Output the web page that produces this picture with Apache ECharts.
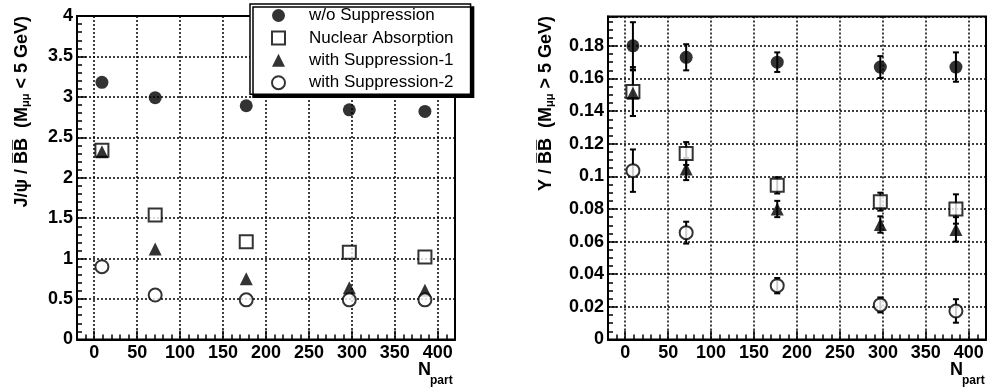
<!DOCTYPE html>
<html>
<head>
<meta charset="utf-8">
<script src="https://cdn.jsdelivr.net/npm/echarts@6/dist/echarts.min.js"></script>
<style>
  html, body { margin: 0; padding: 0; background: #fff; }
  #chart { width: 989px; height: 387px; }
</style>
</head>
<body>
<div id="chart"></div>
<script>
const FONT = "'Liberation Sans', Arial, Helvetica, sans-serif";

const seriesNames = ['w/o Suppression', 'Nuclear Absorption', 'with Suppression-1', 'with Suppression-2'];
const nPart = [9, 71, 177, 297, 385];

// J/psi / BB (left panel)
const jpsiNoSupp = [3.18, 2.99, 2.89, 2.84, 2.82];
const jpsiNucAbs = [2.34, 1.54, 1.21, 1.08, 1.02];
const jpsiSupp1 = [2.32, 1.12, 0.75, 0.64, 0.61];
const jpsiSupp2 = [0.90, 0.55, 0.49, 0.49, 0.49];

// Upsilon / BB (right panel) with errors
const upsNoSupp = [0.180, 0.173, 0.170, 0.167, 0.167];
const upsNoSuppErr = [0.0145, 0.008, 0.006, 0.0067, 0.009];
const upsNucAbs = [0.152, 0.114, 0.0945, 0.0845, 0.080];
const upsNucAbsErr = [0.015, 0.007, 0.005, 0.0055, 0.009];
const upsSupp1 = [0.151, 0.1045, 0.080, 0.0705, 0.0675];
const upsSupp1Err = [0.014, 0.0068, 0.005, 0.005, 0.0075];
const upsSupp2 = [0.1035, 0.0655, 0.033, 0.0212, 0.0175];
const upsSupp2Err = [0.013, 0.0067, 0.0047, 0.0046, 0.0072];

const chart = echarts.init(document.getElementById('chart'));

// marker look per series, same order as seriesNames
const markers = [
  { symbol: 'circle', itemStyle: { color: '#000' } },
  { symbol: 'rect', itemStyle: { color: '#fff', borderColor: '#000', borderWidth: 2 } },
  { symbol: 'triangle', itemStyle: { color: '#000' } },
  { symbol: 'circle', itemStyle: { color: '#fff', borderColor: '#000', borderWidth: 2 } },
];

function scatter(idx, panel, ys) {
  return {
    name: seriesNames[idx],
    type: 'scatter',
    xAxisIndex: panel,
    yAxisIndex: panel,
    symbol: markers[idx].symbol,
    symbolSize: 13,
    itemStyle: markers[idx].itemStyle,
    data: nPart.map((x, i) => [x, ys[i]]),
    z: 3,
  };
}

function errorBars(ys, errs) {
  return {
    type: 'custom',
    xAxisIndex: 1,
    yAxisIndex: 1,
    silent: true,
    z: 2,
    data: nPart.map((x, i) => [x, ys[i], errs[i]]),
    renderItem: (params, api) => {
      const x = api.value(0), y = api.value(1), e = api.value(2);
      const top = api.coord([x, y + e]);
      const bot = api.coord([x, y - e]);
      const style = { stroke: '#000', lineWidth: 2 };
      return {
        type: 'group',
        children: [
          { type: 'line', shape: { x1: top[0], y1: top[1], x2: bot[0], y2: bot[1] }, style },
          { type: 'line', shape: { x1: top[0] - 3, y1: top[1], x2: top[0] + 3, y2: top[1] }, style },
          { type: 'line', shape: { x1: bot[0] - 3, y1: bot[1], x2: bot[0] + 3, y2: bot[1] }, style },
        ],
      };
    },
  };
}

const labelStyle = { fontFamily: FONT, fontWeight: 'bold', fontSize: 18, color: '#000' };
const gridLine = { show: true, lineStyle: { color: '#000', type: [2, 2], width: 1.5 } };

function xAxis(gridIndex) {
  return {
    type: 'value',
    gridIndex,
    min: -20,
    max: 420,
    splitNumber: 9,
    axisLine: { show: true, onZero: false, lineStyle: { color: '#000', width: 2 } },
    axisTick: { show: true, inside: true, length: 9, lineStyle: { color: '#000', width: 1.5 } },
    minorTick: { show: true, splitNumber: 5, length: 5, lineStyle: { color: '#000', width: 1.5 } },
    axisLabel: Object.assign({ margin: 5, formatter: v => (v % 50 === 0 ? String(v) : '') }, labelStyle),
    splitLine: gridLine,
  };
}

function yAxis(gridIndex, max, interval, minorSplit) {
  return {
    type: 'value',
    gridIndex,
    min: 0,
    max,
    interval,
    axisLine: { show: true, onZero: false, lineStyle: { color: '#000', width: 2 } },
    axisTick: { show: true, inside: true, length: 9, lineStyle: { color: '#000', width: 1.5 } },
    minorTick: { show: true, splitNumber: minorSplit, length: 5, lineStyle: { color: '#000', width: 1.5 } },
    axisLabel: Object.assign({ margin: 4, showMaxLabel: gridIndex === 0 }, labelStyle),
    splitLine: gridLine,
  };
}

const titleRich = {
  t: { fontFamily: FONT, fontWeight: 'bold', fontSize: 18, color: '#000', lineHeight: 20, verticalAlign: 'bottom' },
  s: { fontFamily: FONT, fontWeight: 'bold', fontSize: 11, color: '#000', lineHeight: 6, verticalAlign: 'bottom' },
};

function yTitle(x, text) {
  return {
    type: 'text', x, y: 16, rotation: Math.PI / 2,
    style: { text, rich: titleRich, align: 'right', verticalAlign: 'middle' },
  };
}

function nPartTitle(x) {
  return [
    { type: 'text', x, y: 361, style: { text: 'N', font: 'bold 18px ' + FONT, fill: '#000' } },
    { type: 'text', x: x + 12, y: 375, style: { text: 'part', font: 'bold 12px ' + FONT, fill: '#000' } },
  ];
}

const option = {
  backgroundColor: '#fff',
  animation: false,
  grid: [
    { left: 77, top: 16, width: 378, height: 323.5, show: true, borderColor: '#000', borderWidth: 2 },
    { left: 608, top: 16.5, width: 379, height: 323, show: true, borderColor: '#000', borderWidth: 2 },
  ],
  xAxis: [xAxis(0), xAxis(1)],
  yAxis: [yAxis(0, 4, 0.5, 5), yAxis(1, 0.198, 0.02, 4)],
  legend: {
    data: seriesNames,
    orient: 'vertical',
    left: 250,
    top: 4,
    padding: [3, 17, 3, 21],
    itemWidth: 13,
    itemHeight: 13,
    itemGap: 5.4,
    selectedMode: false,
    backgroundColor: '#fff',
    borderColor: '#000',
    borderWidth: 1.5,
    shadowColor: '#000',
    shadowBlur: 0,
    shadowOffsetX: 3,
    shadowOffsetY: 3,
    textStyle: { fontFamily: FONT, fontSize: 17, color: '#000', lineHeight: 13, padding: [0, 0, 0, 19] },
    z: 10,
  },
  graphic: [
    yTitle(21, '{t|J/ψ / B\u0305B\u0305  (M}{s|μμ}{t| < 5 GeV)}'),
    yTitle(545, '{t|Υ / B\u0305B\u0305  (M}{s|μμ}{t| > 5 GeV)}'),
    ...nPartTitle(418),
    ...nPartTitle(950),
  ],
  series: [
    scatter(0, 0, jpsiNoSupp),
    scatter(1, 0, jpsiNucAbs),
    scatter(2, 0, jpsiSupp1),
    scatter(3, 0, jpsiSupp2),
    errorBars(upsNoSupp, upsNoSuppErr),
    errorBars(upsNucAbs, upsNucAbsErr),
    errorBars(upsSupp1, upsSupp1Err),
    errorBars(upsSupp2, upsSupp2Err),
    scatter(0, 1, upsNoSupp),
    scatter(1, 1, upsNucAbs),
    scatter(2, 1, upsSupp1),
    scatter(3, 1, upsSupp2),
  ],
};

chart.setOption(option);
</script>
</body>
</html>
